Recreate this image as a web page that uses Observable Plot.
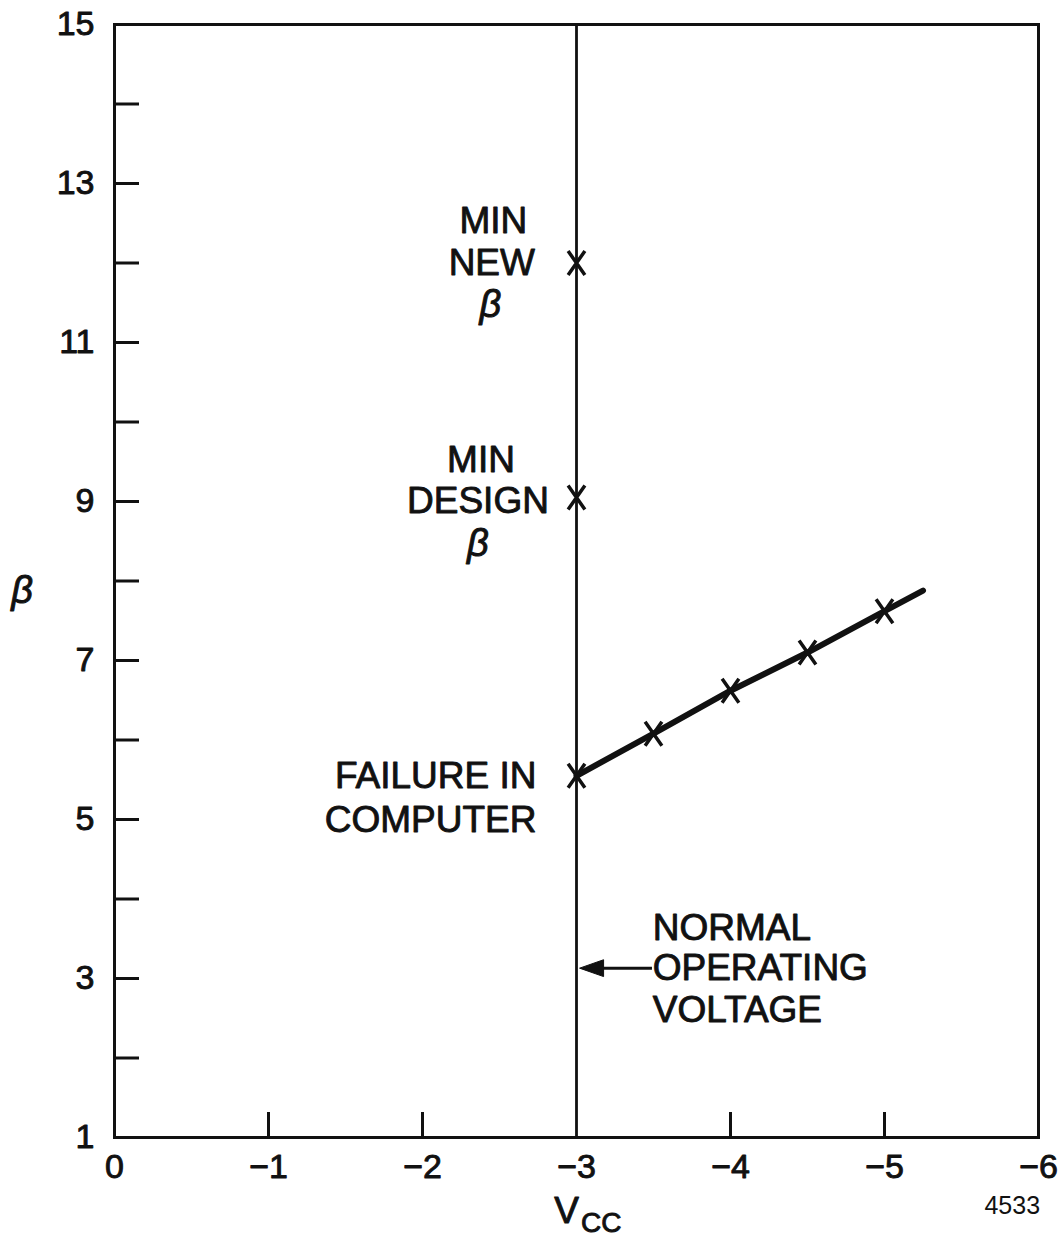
<!DOCTYPE html>
<html>
<head>
<meta charset="utf-8">
<script src="https://cdn.jsdelivr.net/npm/d3@7"></script>
<script src="https://cdn.jsdelivr.net/npm/@observablehq/plot@0.6"></script>
<style>
  html, body { margin: 0; padding: 0; background: #fff; }
</style>
</head>
<body>
<div id="chart"></div>
<script>
// ---- data ----
const xTicks = [0, -1, -2, -3, -4, -5, -6];
const xTickMarks = [-1, -2, -4, -5];
const xTickLabels = ["0", "\u22121", "\u22122", "\u22123", "\u22124", "\u22125", "\u22126"];
const yTicks = [1, 3, 5, 7, 9, 11, 13, 15];
const yTickMarks = [2, 3, 4, 5, 6, 7, 8, 9, 10, 11, 12, 13, 14];
const yTickLabels = ["1", "3", "5", "7", "9", "11", "13", "15"];

const normalVcc = -3;
const minNewBeta = 12.0;
const minDesignBeta = 9.05;

// measured failure curve (Vcc, beta)
const curveVcc  = [-3.0, -3.5, -4.0, -4.5, -5.0];
const curveBeta = [5.55, 6.08, 6.62, 7.10, 7.62];
// line extends a little beyond the last point
const lineVcc  = [-3.0, -3.5, -4.0, -4.5, -5.0, -5.25];
const lineBeta = [5.55, 6.08, 6.62, 7.10, 7.62, 7.88];

const labelsCentered = [
  {x: -2.46, y: 12.53, text: "MIN"},
  {x: -2.45, y: 12.00, text: "NEW"},
  {x: -2.38, y: 9.52, text: "MIN"},
  {x: -2.36, y: 9.01, text: "DESIGN"}
];
const labelsRight = [
  {x: -2.74, y: 5.55, text: "FAILURE IN"},
  {x: -2.74, y: 4.99, text: "COMPUTER"}
];
const labelsLeft = [
  {x: -3.495, y: 3.63, text: "NORMAL"},
  {x: -3.495, y: 3.13, text: "OPERATING"},
  {x: -3.495, y: 2.60, text: "VOLTAGE"}
];
const labelsBeta = [
  {x: -2.44, y: 11.47, text: "\u03B2"},
  {x: -2.36, y: 8.47, text: "\u03B2"}
];
const arrowY = 3.13;
const arrowFrom = -3.49;
const arrowTo = -3.02;

// ---- helpers ----
const points = curveVcc.map((v, i) => ({x: v, y: curveBeta[i]}));
points.push({x: normalVcc, y: minNewBeta}, {x: normalVcc, y: minDesignBeta});
const linePts = lineVcc.map((v, i) => ({x: v, y: lineBeta[i]}));
const xLab = xTicks.map((v, i) => ({x: v, t: xTickLabels[i]}));
const yLab = yTicks.map((v, i) => ({y: v, t: yTickLabels[i]}));

const crossSymbol = {
  draw(ctx, size) {
    const r = Math.sqrt(size / Math.PI);
    const w = r * 0.7;
    ctx.moveTo(-w, -r); ctx.lineTo(w, r);
    ctx.moveTo(w, -r); ctx.lineTo(-w, r);
  }
};
const leftTriangle = {
  draw(ctx, size) {
    const r = Math.sqrt(size / Math.PI);
    ctx.moveTo(0, 0);
    ctx.lineTo(2 * r, -0.7 * r);
    ctx.lineTo(2 * r, 0.7 * r);
    ctx.closePath();
  }
};

const W = 1061, H = 1240;
const mL = 114, mR = 23, mT = 24, mB = 103;
const plotW = W - mL - mR, plotH = H - mT - mB;
const tickLen = 25;
const font = "'Liberation Sans', Arial, sans-serif";
const ink = "#111";
const bold = {stroke: ink, strokeWidth: 0.9};

const chart = Plot.plot({
  width: W,
  height: H,
  marginLeft: mL,
  marginRight: mR,
  marginTop: mT,
  marginBottom: mB,
  x: {domain: [0, -6], axis: null},
  y: {domain: [1, 15], axis: null},
  style: {fontFamily: font, color: ink, background: "#fff", overflow: "visible"},
  marks: [
    Plot.frame({stroke: ink, strokeWidth: 3}),
    // inward ticks
    Plot.tickY(yTickMarks, {y: d => d, stroke: ink, strokeWidth: 3, insetRight: plotW - tickLen}),
    Plot.tickX(xTickMarks, {x: d => d, stroke: ink, strokeWidth: 3, insetTop: plotH - tickLen}),
    // tick labels
    Plot.text(yLab, {x: 0, y: "y", text: "t", textAnchor: "end", dx: -20, fontSize: 34, fill: ink, ...bold}),
    Plot.text(xLab, {x: "x", y: 1, text: "t", dy: 30, fontSize: 34, fill: ink, ...bold}),
    // normal operating voltage line
    Plot.ruleX([normalVcc], {stroke: ink, strokeWidth: 2.8}),
    // failure curve
    Plot.line(linePts, {x: "x", y: "y", stroke: ink, strokeWidth: 6, strokeLinecap: "round"}),
    Plot.dot(points, {x: "x", y: "y", symbol: crossSymbol, r: 12, stroke: ink, strokeWidth: 3.5}),
    // annotations
    Plot.text(labelsCentered, {x: "x", y: "y", text: "text", textAnchor: "middle", fontSize: 37, fill: ink, letterSpacing: 0.5, ...bold}),
    Plot.text(labelsRight, {x: "x", y: "y", text: "text", textAnchor: "end", fontSize: 37, fill: ink, letterSpacing: 0.5, ...bold}),
    Plot.text(labelsLeft, {x: "x", y: "y", text: "text", textAnchor: "start", fontSize: 37, fill: ink, letterSpacing: 0.5, ...bold}),
    Plot.text(labelsBeta, {x: "x", y: "y", text: "text", fontSize: 38, fontStyle: "italic", fill: ink, ...bold}),
    // arrow
    Plot.link([{x1: arrowFrom, x2: arrowTo - 0.1, y: arrowY}], {x1: "x1", x2: "x2", y1: "y", y2: "y", stroke: ink, strokeWidth: 3}),
    Plot.dot([{x: arrowTo, y: arrowY}], {x: "x", y: "y", symbol: leftTriangle, r: 12, fill: ink, stroke: ink, strokeWidth: 1}),
    // axis titles
    Plot.text(["\u03B2"], {x: 0.6, y: 7.88, text: d => d, fontSize: 38, fontStyle: "italic", fill: ink, ...bold}),
    Plot.text(["V"], {x: -2.935, y: 1, text: d => d, dy: 74, fontSize: 37, fill: ink, ...bold}),
    Plot.text(["CC"], {x: -3.03, y: 1, text: d => d, dy: 86, fontSize: 28, textAnchor: "start", fill: ink, ...bold}),
    Plot.text(["4533"], {x: -6.01, y: 1, text: d => d, dy: 68, fontSize: 25, textAnchor: "end", fill: ink})
  ]
});
document.getElementById("chart").appendChild(chart);
</script>
</body>
</html>
